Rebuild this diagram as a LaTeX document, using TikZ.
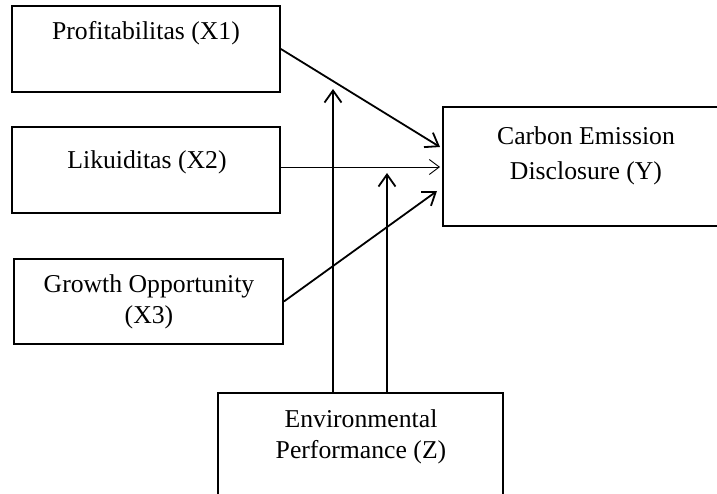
\documentclass[tikz,border=0pt]{standalone}
\usepackage{fontspec}
\setmainfont{Liberation Serif}
\usetikzlibrary{arrows.meta}
\begin{document}
\begin{tikzpicture}[x=1pt,y=-1pt,
  box/.style={draw,line width=1.8pt,inner sep=0pt},
  lbl/.style={anchor=base,inner sep=0pt,font=\fontsize{25.7}{31}\selectfont},
  arr/.style={line width=1.8pt,-{Straight Barb[length=12pt,width=17pt,line width=1.8pt]}},
  thinarr/.style={line width=0.9pt,-{Straight Barb[length=10pt,width=15pt,line width=0.9pt]}}]
\useasboundingbox (0,0) rectangle (717,494);
\clip (0,0) rectangle (717,494);
\fill[white] (0,0) rectangle (717,494);
% boxes
\node[box,minimum width=268pt,minimum height=86pt] (X1) at (146,49) {};
\node[box,minimum width=268pt,minimum height=86pt] (X2) at (146,170) {};
\node[box,minimum width=269pt,minimum height=85pt] (X3) at (148.5,301.5) {};
\node[box,minimum width=286pt,minimum height=119pt] (Y) at (586,166.5) {};
\node[box,minimum width=285pt,minimum height=130pt] (Z) at (360.5,458) {};
% labels
\node[lbl] (t1) at (146,40) {Profitabilitas (X1)};
\node[lbl] (t2) at (147,169) {Likuiditas (X2)};
\node[lbl] (t3a) at (149,292) {Growth Opportunity};
\node[lbl] (t3b) at (149,323) {(X3)};
\node[lbl] (tYa) at (586,145) {Carbon Emission};
\node[lbl] (tYb) at (586,180) {Disclosure (Y)};
\node[lbl] (tZa) at (361,427) {Environmental};
\node[lbl] (tZb) at (361,458) {Performance (Z)};
% arrow ends
\coordinate (e1) at (440,147);
\coordinate (e2) at (440,167);
\coordinate (e3) at (437,191);
\coordinate (v1) at (333,89);
\coordinate (v2) at (387,173);
% connectors
\draw[arr] (X1.east) -- (e1);
\draw[thinarr] ([yshift=3pt]X2.east) -- (e2);
\draw[arr] (X3.east) -- (e3);
\draw[arr] (v1 |- Z.north) -- (v1);
\draw[arr] (v2 |- Z.north) -- (v2);
\end{tikzpicture}
\end{document}
